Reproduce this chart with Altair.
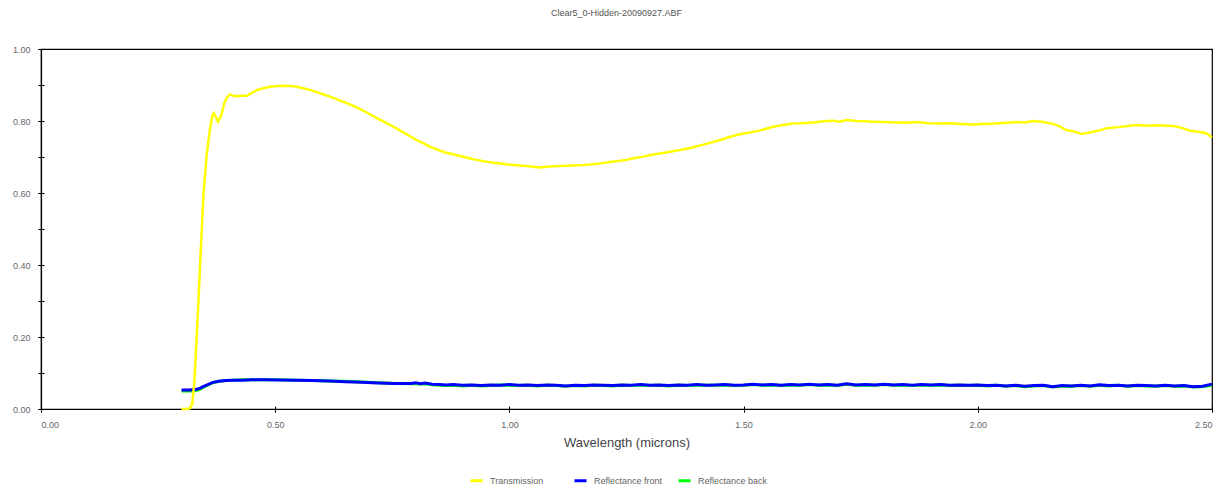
import altair as alt
import pandas as pd

# ---- data ----
tr_wl = [0.300, 0.310, 0.318, 0.323, 0.327, 0.330, 0.335, 0.340, 0.347, 0.354, 0.361, 0.366, 0.369,
         0.373, 0.378, 0.382, 0.386, 0.391, 0.397, 0.404, 0.411, 0.418, 0.428, 0.440, 0.450, 0.461,
         0.475, 0.489, 0.505, 0.525, 0.543, 0.560, 0.578, 0.596, 0.614, 0.632, 0.650, 0.667, 0.685,
         0.703, 0.720, 0.737, 0.753, 0.770, 0.786, 0.802, 0.815, 0.830, 0.845, 0.860, 0.875, 0.895,
         0.912, 0.930, 0.945, 0.962, 0.980, 0.998, 1.015, 1.036, 1.050, 1.065, 1.080, 1.095, 1.108,
         1.125, 1.145, 1.160, 1.179, 1.197, 1.215, 1.232, 1.250, 1.268, 1.286, 1.304, 1.322, 1.340,
         1.358, 1.375, 1.393, 1.410, 1.430, 1.450, 1.468, 1.485, 1.500, 1.517, 1.535, 1.550, 1.563,
         1.585, 1.605, 1.625, 1.650, 1.670, 1.692, 1.705, 1.720, 1.740, 1.760, 1.776, 1.800, 1.825,
         1.848, 1.870, 1.895, 1.919, 1.940, 1.965, 1.990, 2.010, 2.035, 2.061, 2.085, 2.100, 2.118,
         2.140, 2.161, 2.175, 2.189, 2.205, 2.221, 2.235, 2.246, 2.260, 2.275, 2.300, 2.320, 2.339,
         2.360, 2.385, 2.400, 2.418, 2.435, 2.453, 2.470, 2.488, 2.500]
tr_val = [0.000, 0.000, 0.002, 0.015, 0.070, 0.140, 0.270, 0.410, 0.600, 0.710, 0.780, 0.815, 0.822,
          0.812, 0.798, 0.808, 0.822, 0.848, 0.866, 0.874, 0.870, 0.869, 0.870, 0.870, 0.878, 0.886,
          0.891, 0.895, 0.897, 0.898, 0.896, 0.891, 0.885, 0.877, 0.869, 0.860, 0.851, 0.842, 0.831,
          0.818, 0.806, 0.795, 0.784, 0.771, 0.759, 0.747, 0.739, 0.729, 0.721, 0.714, 0.709, 0.703,
          0.697, 0.692, 0.688, 0.685, 0.682, 0.679, 0.677, 0.675, 0.673, 0.671, 0.673, 0.674, 0.675,
          0.676, 0.677, 0.678, 0.680, 0.683, 0.686, 0.689, 0.692, 0.697, 0.701, 0.706, 0.710, 0.714,
          0.718, 0.722, 0.727, 0.733, 0.740, 0.747, 0.755, 0.761, 0.765, 0.769, 0.774, 0.779, 0.784,
          0.789, 0.793, 0.794, 0.796, 0.799, 0.801, 0.798, 0.803, 0.800, 0.799, 0.798, 0.797, 0.796,
          0.795, 0.797, 0.794, 0.793, 0.794, 0.792, 0.790, 0.792, 0.793, 0.795, 0.797, 0.796, 0.800,
          0.797, 0.792, 0.785, 0.775, 0.771, 0.764, 0.767, 0.770, 0.774, 0.780, 0.783, 0.786, 0.789,
          0.787, 0.788, 0.787, 0.786, 0.781, 0.773, 0.770, 0.766, 0.755]

rf_wl = [0.300, 0.315, 0.330, 0.340, 0.346, 0.356, 0.367, 0.380, 0.395, 0.410, 0.430, 0.450, 0.480,
         0.510, 0.545, 0.580, 0.615, 0.650, 0.685, 0.720, 0.755, 0.790, 0.800, 0.810, 0.820, 0.835,
         0.850, 0.865, 0.88, 0.90, 0.92, 0.94, 0.96, 0.98, 1.00, 1.02, 1.04, 1.06, 1.08, 1.10, 1.12,
         1.14, 1.16, 1.18, 1.20, 1.22, 1.24, 1.26, 1.28, 1.30, 1.32, 1.34, 1.36, 1.38, 1.40, 1.42,
         1.44, 1.46, 1.48, 1.50, 1.52, 1.54, 1.56, 1.58, 1.60, 1.62, 1.64, 1.66, 1.68, 1.70, 1.72,
         1.74, 1.76, 1.78, 1.80, 1.82, 1.84, 1.86, 1.88, 1.90, 1.92, 1.94, 1.96, 1.98, 2.00, 2.02,
         2.04, 2.06, 2.08, 2.10, 2.12, 2.14, 2.16, 2.18, 2.20, 2.22, 2.24, 2.26, 2.28, 2.30, 2.32,
         2.34, 2.36, 2.38, 2.40, 2.42, 2.44, 2.46, 2.48, 2.50]
rf_val = [0.053, 0.053, 0.054, 0.058, 0.062, 0.068, 0.074, 0.077, 0.079, 0.080, 0.080, 0.081, 0.081,
          0.0805, 0.080, 0.079, 0.078, 0.076, 0.074, 0.072, 0.071, 0.071, 0.073, 0.070, 0.072, 0.069,
          0.068, 0.067, 0.068, 0.066, 0.067, 0.065, 0.067, 0.066, 0.068, 0.066, 0.067, 0.065, 0.067,
          0.066, 0.064, 0.066, 0.065, 0.067, 0.066, 0.065, 0.067, 0.066, 0.068, 0.066, 0.067, 0.065,
          0.067, 0.066, 0.068, 0.066, 0.067, 0.068, 0.066, 0.067, 0.069, 0.067, 0.068, 0.066, 0.068,
          0.067, 0.069, 0.067, 0.068, 0.066, 0.070, 0.067, 0.068, 0.067, 0.069, 0.067, 0.068, 0.066,
          0.068, 0.067, 0.068, 0.066, 0.067, 0.066, 0.067, 0.065, 0.066, 0.064, 0.066, 0.063, 0.065,
          0.066, 0.062, 0.065, 0.064, 0.066, 0.064, 0.067, 0.065, 0.066, 0.064, 0.066, 0.065, 0.064,
          0.066, 0.064, 0.065, 0.062, 0.063, 0.069]

rb_wl = rf_wl
rb_val = [0.050, 0.050, 0.051, 0.055, 0.060, 0.066, 0.073, 0.077, 0.079, 0.080, 0.081, 0.081, 0.081,
          0.081, 0.080, 0.079, 0.078, 0.077, 0.075, 0.073, 0.071, 0.070, 0.071, 0.069, 0.070, 0.067,
          0.066, 0.065, 0.066, 0.064, 0.066, 0.064, 0.065, 0.067, 0.066, 0.065, 0.066, 0.064, 0.066,
          0.065, 0.063, 0.065, 0.064, 0.066, 0.065, 0.064, 0.066, 0.065, 0.067, 0.065, 0.066, 0.064,
          0.066, 0.065, 0.067, 0.066, 0.066, 0.067, 0.065, 0.066, 0.068, 0.066, 0.067, 0.065, 0.067,
          0.066, 0.068, 0.066, 0.067, 0.065, 0.069, 0.066, 0.067, 0.066, 0.068, 0.066, 0.067, 0.065,
          0.067, 0.066, 0.067, 0.065, 0.066, 0.065, 0.066, 0.064, 0.066, 0.063, 0.065, 0.062, 0.064,
          0.065, 0.061, 0.064, 0.063, 0.065, 0.063, 0.066, 0.064, 0.066, 0.063, 0.065, 0.064, 0.063,
          0.065, 0.063, 0.064, 0.061, 0.062, 0.066]

series_names = ["Transmission", "Reflectance front", "Reflectance back"]
series_colors = ["#ffff00", "#0000ff", "#00ff00"]

x_ticks = [0.0, 0.5, 1.0, 1.5, 2.0, 2.5]
y_ticks = [0.0, 0.2, 0.4, 0.6, 0.8, 1.0]
y_minor = [0.0, 0.1, 0.2, 0.3, 0.4, 0.5, 0.6, 0.7, 0.8, 0.9, 1.0]

df = pd.concat([
    pd.DataFrame({"wl": tr_wl, "val": tr_val, "series": series_names[0]}),
    pd.DataFrame({"wl": rf_wl, "val": rf_val, "series": series_names[1]}),
    pd.DataFrame({"wl": rb_wl, "val": rb_val, "series": series_names[2]}),
], ignore_index=True)

FONT = "Liberation Sans"
xscale = alt.Scale(domain=[0, 2.5], nice=False, zero=False)
yscale = alt.Scale(domain=[0, 1.0], nice=False)
color = alt.Color("series:N", scale=alt.Scale(domain=series_names, range=series_colors),
                  legend=alt.Legend(title=None))

main_x = alt.Axis(values=x_ticks, format=".2f", grid=False, domainColor="black", domainWidth=1.2,
                  tickColor="black", tickSize=3, labelPadding=8, labelFont=FONT, labelFontSize=9,
                  labelColor="#666", title="Wavelength (microns)", titleFont=FONT, titleFontSize=13,
                  titleFontWeight="normal", titleColor="#444", titlePadding=7, orient="bottom")
main_y = alt.Axis(values=y_ticks, format=".2f", grid=False, domainColor="black", domainWidth=1.2,
                  tickColor="black", tickSize=3, labelPadding=8, labelFont=FONT, labelFontSize=9,
                  labelColor="#666", title=None, orient="left")
inner_x = alt.Axis(values=x_ticks, grid=False, domain=False, labels=False, tickColor="black",
                   tickSize=6, offset=-3, title=None, orient="bottom")
inner_y = alt.Axis(values=y_minor, grid=False, domain=False, labels=False, tickColor="black",
                   tickSize=6, offset=-3, title=None, orient="left")

base = alt.Chart(df)

green = base.transform_filter(alt.datum.series == series_names[2]).mark_line(strokeWidth=3).encode(
    x=alt.X("wl:Q", scale=xscale, axis=inner_x),
    y=alt.Y("val:Q", scale=yscale, axis=inner_y),
    color=color,
)
blue = base.transform_filter(alt.datum.series == series_names[1]).mark_line(strokeWidth=3).encode(
    x=alt.X("wl:Q", scale=xscale, axis=main_x),
    y=alt.Y("val:Q", scale=yscale, axis=main_y),
    color=color,
)
yellow = base.transform_filter(alt.datum.series == series_names[0]).mark_line(strokeWidth=2.5).encode(
    x=alt.X("wl:Q", scale=xscale, axis=main_x),
    y=alt.Y("val:Q", scale=yscale, axis=main_y),
    color=color,
)

chart = alt.layer(green, alt.layer(blue, yellow)).resolve_axis(
    x="independent", y="independent"
).properties(
    width=1171,
    height=360,
    autosize=alt.AutoSizeParams(type="none"),
    padding={"left": 33, "top": 41, "right": 10, "bottom": 76},
    title=alt.TitleParams("Clear5_0-Hidden-20090927.ABF", font=FONT, fontSize=9,
                          fontWeight="normal", color="#555", anchor="middle", offset=27, dx=-10),
).configure_view(
    stroke="black", strokeWidth=1.2
).configure_legend(
    orient="none", legendX=428, legendY=424, direction="horizontal", columns=3,
    gridAlign="all", columnPadding=8, padding=0, symbolType="stroke", symbolSize=144,
    symbolStrokeWidth=3, labelFont=FONT, labelFontSize=9, labelColor="#666", labelOffset=6,
)

chart.save("out.html", embed_options={"renderer": "svg", "actions": False})
